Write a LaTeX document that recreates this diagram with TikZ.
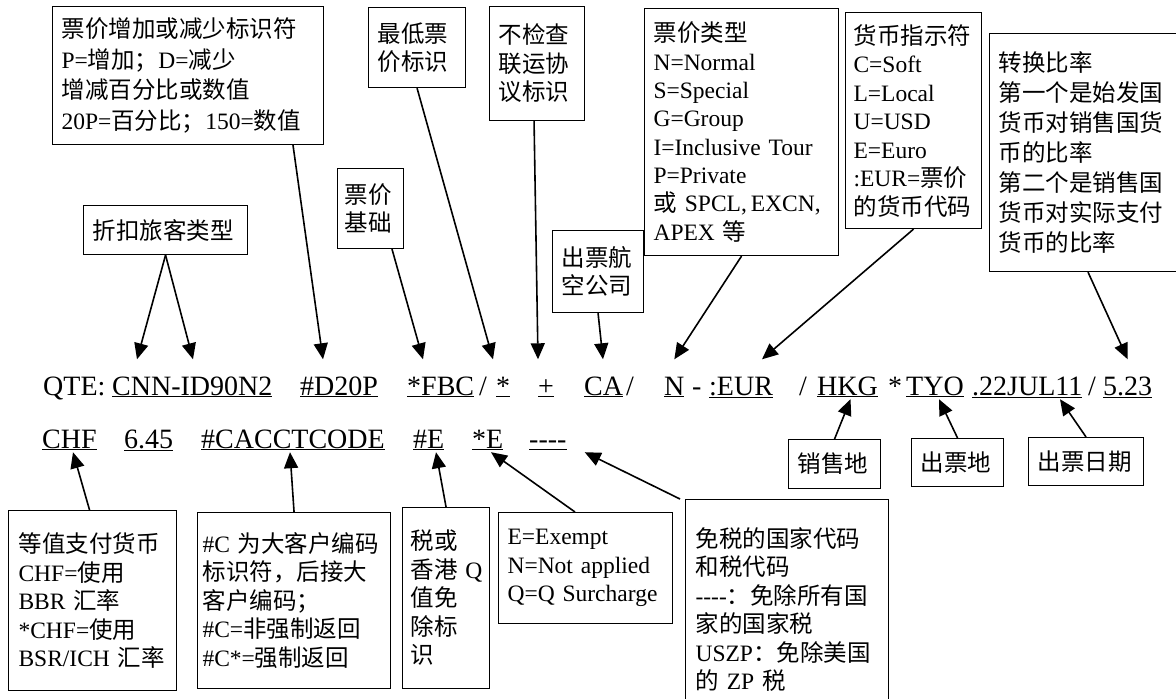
\documentclass[tikz,border=0pt]{standalone}
\usepackage{fontspec}
\setmainfont{Liberation Serif}
\newfontfamily\cjk{Noto Sans CJK SC}
\usetikzlibrary{arrows.meta}
\tikzset{>={Triangle[length=16pt,width=14pt]}}
\newcommand{\zh}[1]{{\cjk #1}}
\newcommand{\fourdash}{\mbox{-{}-{}-{}-}}
\tikzstyle{note}=[draw,line width=1.1pt,anchor=north west,align=left,inner xsep=9pt,inner ysep=3pt,font=\fontsize{23.5}{28.5}\selectfont]
\tikzstyle{tok}=[inner sep=0pt,anchor=base west,text height=18.5pt,text depth=7pt,font=\fontsize{28}{32}\selectfont]
\tikzstyle{ptr}=[->,line width=1.6pt]

\begin{document}
\begin{tikzpicture}[x=1pt,y=-1pt]
  \useasboundingbox (0,0) rectangle (1176,699);
  \clip (0,0) rectangle (1176,699);
  \def\ra{395}
  \def\rb{448}
  \def\up{17pt}
  \def\dn{3pt}

  % first line of the record
  \node[tok] (qte) at (43,\ra) {QTE:};
  \node[tok] (cnn) at (112,\ra) {\underline{CNN-ID90N2}};
  \node[tok] (dzp) at (300,\ra) {\underline{\#D20P}};
  \node[tok] (fbc) at (407,\ra) {\underline{*FBC}};
  \node[tok] (sla) at (479,\ra) {/};
  \node[tok] (ast) at (496,\ra) {\underline{*}};
  \node[tok] (pls) at (538,\ra) {\underline{+}};
  \node[tok] (ca) at (584,\ra) {\underline{CA}};
  \node[tok] (slb) at (626,\ra) {/};
  \node[tok] (ntype) at (664,\ra) {\underline{N}};
  \node[tok] (dsh) at (692,\ra) {-};
  \node[tok] (eur) at (709,\ra) {\underline{:EUR}};
  \node[tok] (slc) at (799,\ra) {/};
  \node[tok] (hkg) at (817,\ra) {\underline{HKG}};
  \node[tok] (stb) at (888,\ra) {*};
  \node[tok] (tyo) at (906,\ra) {\underline{TYO}};
  \node[tok] (date) at (972,\ra) {\underline{.22JUL11}};
  \node[tok] (sld) at (1088,\ra) {/};
  \node[tok] (rate) at (1103,\ra) {\underline{5.23}};

  % second line of the record
  \node[tok] (chf) at (42,\rb) {\underline{CHF}};
  \node[tok] (amt) at (124,\rb) {\underline{6.45}};
  \node[tok] (acct) at (201,\rb) {\underline{\#CACCTCODE}};
  \node[tok] (hashe) at (413,\rb) {\underline{\#E}};
  \node[tok] (stare) at (472,\rb) {\underline{*E}};
  \node[tok] (dashes) at (529,\rb) {\underline{\fourdash}};

  % notes above
  \node[note,text width=253pt,minimum height=138pt,font=\fontsize{23.5}{30.5}\selectfont] (tA) at (52,6)
    {\zh{票价增加或减少标识符}\\P=\zh{增加；}D=\zh{减少}\\\zh{增减百分比或数值}\\20P=\zh{百分比；}150=\zh{数值}};
  \node[note,text width=146pt,minimum height=49pt] (tPax) at (83,205) {\zh{折扣旅客类型}};
  \node[note,text width=52pt,minimum height=80pt,inner xsep=7pt] (tFb) at (337,168) {\zh{票价}\\\zh{基础}};
  \node[note,text width=79pt,minimum height=80pt] (tMin) at (368,7) {\zh{最低票}\\\zh{价标识}};
  \node[note,text width=77pt,minimum height=114pt] (tNoChk) at (489,6) {\zh{不检查}\\\zh{联运协}\\\zh{议标识}};
  \node[note,text width=73pt,minimum height=82pt] (tCarr) at (552,230) {\zh{出票航}\\\zh{空公司}};
  \node[note,text width=176pt,minimum height=247pt,font=\fontsize{23.5}{28.3}\selectfont] (tType) at (644,8)
    {\zh{票价类型}\\N=Normal\\S=Special\\G=Group\\I=Inclusive~Tour\\P=Private\\\zh{或}~SPCL,\,EXCN,\\APEX~\zh{等}};
  \node[note,text width=120pt,minimum height=216pt,inner xsep=8pt] (tCur) at (845,12)
    {\zh{货币指示符}\\C=Soft\\L=Local\\U=USD\\E=Euro\\:EUR=\zh{票价}\\\zh{的货币代码}};
  \node[note,text width=190pt,minimum height=238pt,font=\fontsize{23.5}{30}\selectfont] (tRate) at (989,33)
    {\zh{转换比率}\\\zh{第一个是始发国}\\\zh{货币对销售国货}\\\zh{币的比率}\\\zh{第二个是销售国}\\\zh{货币对实际支付}\\\zh{货币的比率}};

  % notes below
  \node[note,text width=74pt,minimum height=49pt] (tSale) at (788,439) {\zh{销售地}};
  \node[note,text width=74pt,minimum height=48pt] (tIss) at (911,438) {\zh{出票地}};
  \node[note,text width=97pt,minimum height=48pt] (tDate) at (1028,437) {\zh{出票日期}};
  \node[note,text width=148pt,minimum height=180pt,inner xsep=10pt] (tEqv) at (8,510)
    {\zh{等值支付货币}\\CHF=\zh{使用}\\BBR~\zh{汇率}\\{}*CHF=\zh{使用}\\BSR/ICH~\zh{汇率}};
  \node[note,text width=183pt,minimum height=176pt,inner xsep=5pt] (tAcct) at (197,512)
    {\#C~\zh{为大客户编码}\\\zh{标识符，后接大}\\\zh{客户编码；}\\\#C=\zh{非强制返回}\\\#C*=\zh{强制返回}};
  \node[note,text width=71pt,minimum height=181pt,inner xsep=8pt] (tTax) at (402,507)
    {\zh{税或}\\\zh{香港}~Q\\\zh{值免}\\\zh{除标}\\\zh{识}};
  \node[note,text width=156pt,minimum height=111pt,inner xsep=9pt] (tExm) at (498,512)
    {E=Exempt\\N=Not~applied\\Q=Q~Surcharge};
  \node[note,text width=183pt,minimum height=220pt,inner xsep=10pt,font=\fontsize{23.5}{28.5}\selectfont] (tExCode) at (685,499)
    {\zh{免税的国家代码}\\\zh{和税代码}\\\fourdash\zh{：免除所有国}\\\zh{家的国家税}\\USZP\zh{：免除美国}\\\zh{的}~ZP~\zh{税}};

  % pointers down
  \draw[ptr] (tPax.south) -- ([xshift=25pt,yshift=\up]cnn.north west);
  \draw[ptr] (tPax.south) -- ([xshift=81pt,yshift=\up]cnn.north west);
  \draw[ptr] ([xshift=241pt]tA.south west) -- ([xshift=23pt,yshift=\up]dzp.north west);
  \draw[ptr] ([xshift=55pt]tFb.south west) -- ([xshift=16pt,yshift=\up]fbc.north west);
  \draw[ptr] (tMin.south) -- ([xshift=-3pt,yshift=\up]ast.north west);
  \draw[ptr] ([xshift=-3pt]tNoChk.south) -- ([yshift=\up]pls.north west);
  \draw[ptr] (tCarr.south) -- ([xshift=19pt,yshift=\up]ca.north west);
  \draw[ptr] (tType.south) -- ([yshift=\up]ntype.north);
  \draw[ptr] (tCur.south) -- ([xshift=53pt,yshift=\up]eur.north west);
  \draw[ptr] ([xshift=99pt]tRate.south west) -- ([yshift=\up]rate.north);

  % pointers up
  \draw[ptr] (tSale.north) -- ([xshift=3pt,yshift=\dn]hkg.south);
  \draw[ptr] (tIss.north) -- ([xshift=33pt,yshift=\dn]tyo.south west);
  \draw[ptr] (tDate.north) -- ([xshift=88pt,yshift=\dn]date.south west);
  \draw[ptr] ([xshift=-3pt]tEqv.north) -- ([xshift=31pt,yshift=\dn]chf.south west);
  \draw[ptr] (tAcct.north) -- ([xshift=89pt,yshift=\dn]acct.south west);
  \draw[ptr] (tTax.north) -- ([xshift=23pt,yshift=\dn]hashe.south west);
  \draw[ptr] ([xshift=77pt]tExm.north west) -- ([xshift=19pt,yshift=\dn]stare.south west);
  \draw[ptr] ([xshift=-5pt]tExCode.north west) -- ([xshift=18pt,yshift=\dn]dashes.south east);
\end{tikzpicture}
\end{document}
